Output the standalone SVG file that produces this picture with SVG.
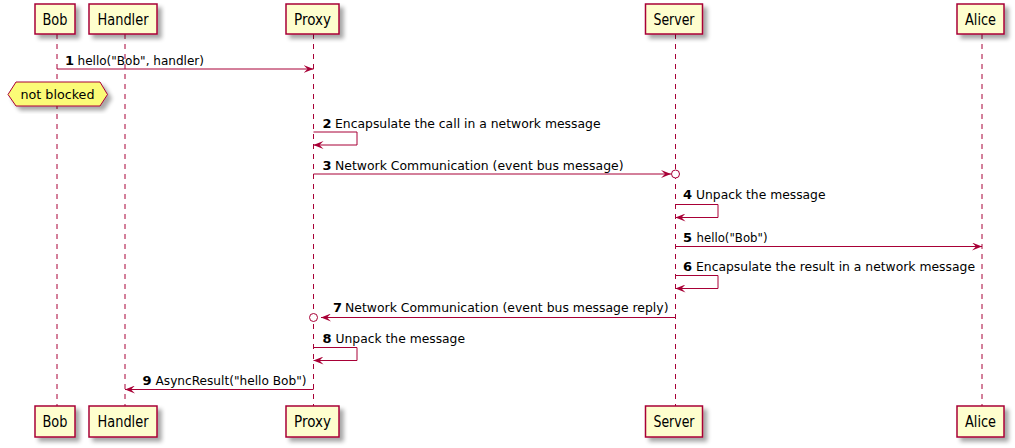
<svg xmlns="http://www.w3.org/2000/svg" width="1015" height="448" viewBox="0 0 1015 448">
<defs>
<filter id="sh" x="-20%" y="-20%" width="150%" height="150%">
<feGaussianBlur in="SourceAlpha" stdDeviation="2"/>
<feOffset dx="4" dy="4" result="b"/>
<feComponentTransfer><feFuncA type="linear" slope="0.35"/></feComponentTransfer>
<feMerge><feMergeNode/><feMergeNode in="SourceGraphic"/></feMerge>
</filter>
<marker id="ah" viewBox="0 0 10 8" refX="10" refY="4" markerWidth="10" markerHeight="8" markerUnits="userSpaceOnUse" orient="auto">
<path d="M0,0 L10,4 L0,8 L4,4 Z" fill="#A80036"/>
</marker>
</defs>
<style>
.box{fill:#FEFECE;stroke:#A80036;stroke-width:1.5}
.life{stroke:#A80036;stroke-width:1;stroke-dasharray:5,5;fill:none}
.msg{stroke:#A80036;stroke-width:1;fill:none;marker-end:url(#ah)}
.pn{font-family:"DejaVu Sans",sans-serif;font-size:15px;fill:#000;text-anchor:middle}
.num{font-family:"DejaVu Sans",sans-serif;font-size:13px;font-weight:bold;fill:#000}
.t{font-family:"DejaVu Sans",sans-serif;font-size:13px;fill:#000}
.circ{fill:#FFFFFF;stroke:#A80036;stroke-width:1}
</style>
<rect width="1015" height="448" fill="#FFFFFF"/>
<g id="lifelines">
<line class="life" x1="57" y1="34" x2="57" y2="406"/>
<line class="life" x1="125" y1="34" x2="125" y2="406"/>
<line class="life" x1="313.5" y1="34" x2="313.5" y2="406"/>
<line class="life" x1="675.5" y1="34" x2="675.5" y2="406"/>
<line class="life" x1="982" y1="34" x2="982" y2="406"/>
</g>
<g id="Bob">
<rect class="box" x="35" y="4" width="40" height="30" filter="url(#sh)"/>
<text class="pn" x="55" y="24.5" textLength="25" lengthAdjust="spacingAndGlyphs">Bob</text>
<rect class="box" x="35" y="406" width="40" height="31" filter="url(#sh)"/>
<text class="pn" x="55" y="427" textLength="25" lengthAdjust="spacingAndGlyphs">Bob</text>
</g>
<g id="Handler">
<rect class="box" x="89" y="4" width="68" height="30" filter="url(#sh)"/>
<text class="pn" x="123" y="24.5" textLength="51" lengthAdjust="spacingAndGlyphs">Handler</text>
<rect class="box" x="89" y="406" width="68" height="31" filter="url(#sh)"/>
<text class="pn" x="123" y="427" textLength="51" lengthAdjust="spacingAndGlyphs">Handler</text>
</g>
<g id="Proxy">
<rect class="box" x="286" y="4" width="53" height="30" filter="url(#sh)"/>
<text class="pn" x="312.5" y="24.5" textLength="37" lengthAdjust="spacingAndGlyphs">Proxy</text>
<rect class="box" x="286" y="406" width="53" height="31" filter="url(#sh)"/>
<text class="pn" x="312.5" y="427" textLength="37" lengthAdjust="spacingAndGlyphs">Proxy</text>
</g>
<g id="Server">
<rect class="box" x="645.5" y="4" width="57" height="30" filter="url(#sh)"/>
<text class="pn" x="674" y="24.5" textLength="41" lengthAdjust="spacingAndGlyphs">Server</text>
<rect class="box" x="645.5" y="406" width="57" height="31" filter="url(#sh)"/>
<text class="pn" x="674" y="427" textLength="41" lengthAdjust="spacingAndGlyphs">Server</text>
</g>
<g id="Alice">
<rect class="box" x="957" y="4" width="47" height="30" filter="url(#sh)"/>
<text class="pn" x="980.5" y="24.5" textLength="31" lengthAdjust="spacingAndGlyphs">Alice</text>
<rect class="box" x="957" y="406" width="47" height="31" filter="url(#sh)"/>
<text class="pn" x="980.5" y="427" textLength="31" lengthAdjust="spacingAndGlyphs">Alice</text>
</g>
<g id="note-not-blocked">
<polygon points="8,94.5 16,82 100,82 107.5,94.5 100,106 16,106" fill="#FBFB77" stroke="#A80036" stroke-width="1" filter="url(#sh)"/>
<text class="t" x="20.5" y="99" textLength="74" lengthAdjust="spacingAndGlyphs">not blocked</text>
</g>
<g id="connectors">
<line class="msg" x1="57" y1="69" x2="313.5" y2="69"/>
<path class="msg" d="M313.5,132 H357 V145 H313.5"/>
<line class="msg" x1="313.5" y1="174" x2="671" y2="174"/>
<circle class="circ" cx="675.5" cy="174" r="4"/>
<path class="msg" d="M675.5,204.5 H718 V217.5 H675.5"/>
<line class="msg" x1="675.5" y1="246.5" x2="982" y2="246.5"/>
<path class="msg" d="M675.5,275.5 H718 V288.5 H675.5"/>
<line class="msg" x1="675.5" y1="317.5" x2="321" y2="317.5"/>
<circle class="circ" cx="313.5" cy="317.5" r="4"/>
<path class="msg" d="M313.5,347.5 H357 V360.5 H313.5"/>
<line class="msg" x1="313.5" y1="389.5" x2="125" y2="389.5"/>
</g>
<g id="labels">
<text class="num" x="65" y="64.5">1</text>
<text class="t" x="77.5" y="64.5" textLength="126.5" lengthAdjust="spacingAndGlyphs">hello("Bob", handler)</text>
<text class="num" x="322.5" y="127.5">2</text>
<text class="t" x="335" y="127.5" textLength="265.5" lengthAdjust="spacingAndGlyphs">Encapsulate the call in a network message</text>
<text class="num" x="322.5" y="169.5">3</text>
<text class="t" x="335" y="169.5" textLength="288.5" lengthAdjust="spacingAndGlyphs">Network Communication (event bus message)</text>
<text class="num" x="683" y="198.5">4</text>
<text class="t" x="696" y="198.5" textLength="129.5" lengthAdjust="spacingAndGlyphs">Unpack the message</text>
<text class="num" x="683" y="242">5</text>
<text class="t" x="696.5" y="242" textLength="71" lengthAdjust="spacingAndGlyphs">hello("Bob")</text>
<text class="num" x="683" y="270.5">6</text>
<text class="t" x="696" y="270.5" textLength="279" lengthAdjust="spacingAndGlyphs">Encapsulate the result in a network message</text>
<text class="num" x="333" y="312">7</text>
<text class="t" x="345" y="312" textLength="323.5" lengthAdjust="spacingAndGlyphs">Network Communication (event bus message reply)</text>
<text class="num" x="322.5" y="342.5">8</text>
<text class="t" x="335.5" y="342.5" textLength="129.5" lengthAdjust="spacingAndGlyphs">Unpack the message</text>
<text class="num" x="142.5" y="384.5">9</text>
<text class="t" x="155.5" y="384.5" textLength="151" lengthAdjust="spacingAndGlyphs">AsyncResult("hello Bob")</text>
</g>
</svg>
